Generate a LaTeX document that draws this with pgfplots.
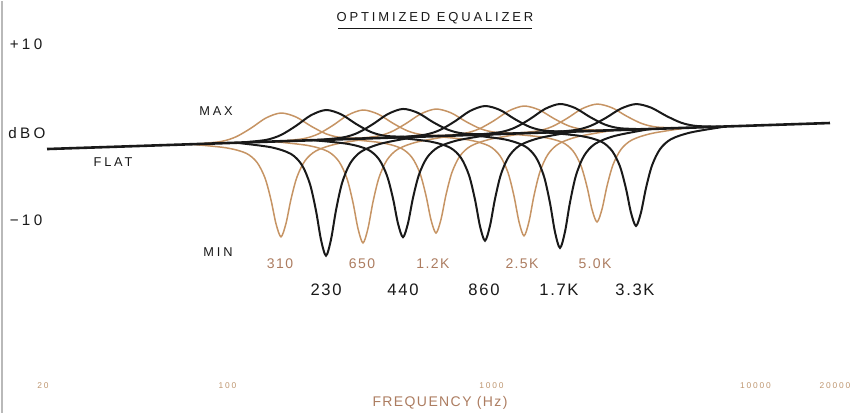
\documentclass[border=0pt]{standalone}
\usepackage{fontspec}
\setmainfont{Liberation Sans}
\newfontfamily\lettA[LetterSpace=22]{Liberation Sans}
\newfontfamily\lettB[LetterSpace=10]{Liberation Sans}
\usepackage{pgfplots}
\pgfplotsset{compat=1.18}
\definecolor{brownline}{RGB}{198,148,100}
\definecolor{brownlab}{RGB}{172,124,96}
\definecolor{ticklab}{RGB}{190,150,112}
\definecolor{inkk}{RGB}{25,25,25}
\begin{document}
\begin{tikzpicture}
\begin{axis}[
  scale only axis, width=429.5pt, height=206pt,
  xmin=1.1381, xmax=4.3919, ymin=-31.64, ymax=14.92,
  axis line style={draw=none}, ytick=\empty,
  xtick={1.30103,2,3,4,4.30103},
  xticklabels={20,100,1000,10000,20000},
  major tick length=0pt,
  xticklabel style={font=\lettA\fontsize{4.2}{5}\selectfont, text=ticklab, anchor=center, yshift=13.5pt},
  clip=false,
  every axis plot/.append style={smooth, no markers},
]
\path (rel axis cs:0,0) rectangle (rel axis cs:1,1);
\draw[gray!55, line width=1pt] (rel axis cs:0.002,0) -- (rel axis cs:0.002,1);
% ---------- brown bands ----------
\addplot[brownline, line width=0.75pt] coordinates {(1.8616,-1.27)(1.9942,-1.67)(2.0699,-2.28)(2.1116,-3.32)(2.1419,-5.08)(2.1646,-7.56)(2.1836,-10.26)(2.2025,-11.73)(2.2214,-10.22)(2.2404,-7.48)(2.2631,-4.96)(2.2934,-3.14)(2.3351,-2.02)(2.4108,-1.25)(2.5434,-0.59)};
\addplot[brownline, line width=0.75pt] coordinates {(1.8805,-1.25)(1.9752,-0.96)(2.0320,-0.43)(2.0889,0.55)(2.1457,1.70)(2.2025,2.26)(2.2593,1.81)(2.3161,0.78)(2.3730,-0.09)(2.4298,-0.51)(2.5245,-0.61)};
\addplot[brownline, line width=0.75pt] coordinates {(2.1722,-0.96)(2.3048,-1.41)(2.3805,-2.09)(2.4222,-3.23)(2.4525,-5.16)(2.4752,-7.86)(2.4942,-10.81)(2.5131,-12.42)(2.5320,-10.78)(2.5510,-7.78)(2.5737,-5.04)(2.6040,-3.05)(2.6457,-1.82)(2.7214,-0.99)(2.8540,-0.29)};
\addplot[brownline, line width=0.75pt] coordinates {(2.1911,-0.94)(2.2858,-0.65)(2.3426,-0.12)(2.3995,0.87)(2.4563,2.03)(2.5131,2.60)(2.5699,2.14)(2.6267,1.10)(2.6836,0.22)(2.7404,-0.20)(2.8351,-0.30)};
\addplot[brownline, line width=0.75pt] coordinates {(2.4487,-0.69)(2.5813,-1.09)(2.6570,-1.72)(2.6987,-2.77)(2.7290,-4.56)(2.7517,-7.07)(2.7707,-9.81)(2.7896,-11.30)(2.8085,-9.77)(2.8275,-6.99)(2.8502,-4.44)(2.8805,-2.59)(2.9222,-1.46)(2.9979,-0.68)(3.1305,-0.01)};
\addplot[brownline, line width=0.75pt] coordinates {(2.4676,-0.67)(2.5623,-0.38)(2.6191,0.12)(2.6760,1.07)(2.7328,2.17)(2.7896,2.71)(2.8464,2.28)(2.9032,1.29)(2.9601,0.46)(3.0169,0.07)(3.1116,-0.03)};
\addplot[brownline, line width=0.75pt] coordinates {(2.7821,-0.36)(2.9147,-0.79)(2.9904,-1.46)(3.0321,-2.58)(3.0624,-4.48)(3.0851,-7.13)(3.1041,-10.04)(3.1230,-11.62)(3.1419,-10.00)(3.1609,-7.06)(3.1836,-4.36)(3.2139,-2.40)(3.2556,-1.20)(3.3313,-0.38)(3.4639,0.32)};
\addplot[brownline, line width=0.75pt] coordinates {(2.8010,-0.34)(2.8957,-0.05)(2.9525,0.46)(3.0094,1.40)(3.0662,2.51)(3.1230,3.05)(3.1798,2.62)(3.2366,1.63)(3.2935,0.79)(3.3503,0.40)(3.4450,0.30)};
\addplot[brownline, line width=0.75pt] coordinates {(3.0586,-0.08)(3.1912,-0.46)(3.2669,-1.04)(3.3086,-2.03)(3.3389,-3.71)(3.3616,-6.07)(3.3806,-8.64)(3.3995,-10.05)(3.4184,-8.61)(3.4374,-5.99)(3.4601,-3.59)(3.4904,-1.85)(3.5321,-0.78)(3.6078,-0.04)(3.7404,0.59)};
\addplot[brownline, line width=0.75pt] coordinates {(3.0775,-0.06)(3.1722,0.22)(3.2290,0.72)(3.2859,1.65)(3.3427,2.74)(3.3995,3.27)(3.4563,2.85)(3.5131,1.88)(3.5700,1.06)(3.6268,0.67)(3.7215,0.57)};
% ---------- black bands ----------
\addplot[inkk, line width=1pt] coordinates {(2.0321,-1.10)(2.1647,-1.61)(2.2404,-2.37)(2.2821,-3.64)(2.3124,-5.79)(2.3351,-8.79)(2.3541,-12.07)(2.3730,-13.86)(2.3919,-12.04)(2.4109,-8.72)(2.4336,-5.67)(2.4639,-3.46)(2.5056,-2.11)(2.5813,-1.20)(2.7139,-0.42)};
\addplot[inkk, line width=1pt] coordinates {(2.0510,-1.08)(2.1457,-0.78)(2.2025,-0.22)(2.2594,0.81)(2.3162,2.01)(2.3730,2.60)(2.4298,2.12)(2.4866,1.03)(2.5435,0.11)(2.6003,-0.33)(2.6950,-0.44)};
\addplot[inkk, line width=1pt] coordinates {(2.3237,-0.81)(2.4563,-1.23)(2.5320,-1.88)(2.5737,-2.97)(2.6040,-4.82)(2.6267,-7.40)(2.6457,-10.23)(2.6646,-11.77)(2.6835,-10.20)(2.7025,-7.33)(2.7252,-4.70)(2.7555,-2.79)(2.7972,-1.62)(2.8729,-0.82)(3.0055,-0.14)};
\addplot[inkk, line width=1pt] coordinates {(2.3426,-0.79)(2.4373,-0.50)(2.4941,0.03)(2.5510,1.01)(2.6078,2.15)(2.6646,2.72)(2.7214,2.27)(2.7782,1.23)(2.8351,0.37)(2.8919,-0.05)(2.9866,-0.15)};
\addplot[inkk, line width=1pt] coordinates {(2.6343,-0.50)(2.7669,-0.96)(2.8426,-1.65)(2.8843,-2.81)(2.9146,-4.77)(2.9373,-7.52)(2.9563,-10.53)(2.9752,-12.17)(2.9941,-10.49)(3.0131,-7.45)(3.0358,-4.65)(3.0661,-2.63)(3.1078,-1.39)(3.1835,-0.55)(3.3161,0.17)};
\addplot[inkk, line width=1pt] coordinates {(2.6532,-0.48)(2.7479,-0.19)(2.8047,0.34)(2.8616,1.33)(2.9184,2.49)(2.9752,3.05)(3.0320,2.60)(3.0888,1.56)(3.1457,0.68)(3.2025,0.26)(3.2972,0.15)};
\addplot[inkk, line width=1pt] coordinates {(2.9184,-0.22)(3.0510,-0.73)(3.1267,-1.50)(3.1684,-2.76)(3.1987,-4.91)(3.2214,-7.91)(3.2404,-11.20)(3.2593,-12.98)(3.2782,-11.16)(3.2972,-7.84)(3.3199,-4.79)(3.3502,-2.58)(3.3919,-1.23)(3.4676,-0.32)(3.6002,0.45)};
\addplot[inkk, line width=1pt] coordinates {(2.9373,-0.20)(3.0320,0.09)(3.0888,0.61)(3.1457,1.58)(3.2025,2.72)(3.2593,3.28)(3.3161,2.83)(3.3729,1.81)(3.4298,0.95)(3.4866,0.54)(3.5813,0.43)};
\addplot[inkk, line width=1pt] coordinates {(3.2063,0.06)(3.3389,-0.34)(3.4146,-0.96)(3.4563,-2.01)(3.4866,-3.79)(3.5093,-6.29)(3.5283,-9.01)(3.5472,-10.50)(3.5661,-8.98)(3.5851,-6.21)(3.6078,-3.67)(3.6381,-1.83)(3.6798,-0.70)(3.7555,0.07)(3.8881,0.74)};
\addplot[inkk, line width=1pt] coordinates {(3.2252,0.08)(3.3199,0.35)(3.3767,0.83)(3.4336,1.72)(3.4904,2.76)(3.5472,3.27)(3.6040,2.87)(3.6608,1.95)(3.7177,1.17)(3.7745,0.80)(3.8692,0.72)};
% ---------- flat ----------
\addplot[inkk, line width=1.3pt, sharp plot] coordinates {(1.3162,-1.81)(4.2820,1.13)};
% ---------- texts ----------
\node[inkk, font=\lettA\fontsize{6.5}{8}\selectfont] at (axis cs:2.7858,12.99) {OPTIMIZED EQUALIZER};
\draw[inkk, line width=0.5pt] (axis cs:2.4184,11.86) -- (axis cs:3.1533,11.86);
\node[inkk, font=\lettA\fontsize{7.6}{9}\selectfont] at (axis cs:1.2366,10.06) {+10};
\node[inkk, font=\lettA\fontsize{7.6}{9}\selectfont] at (axis cs:1.2404,0) {dBO};
\node[inkk, font=\lettA\fontsize{7.6}{9}\selectfont] at (axis cs:1.2366,-9.83) {−10};
\node[inkk, font=\lettA\fontsize{6.4}{8}\selectfont] at (axis cs:1.5662,-3.28) {FLAT};
\node[inkk, font=\lettA\fontsize{6.4}{8}\selectfont] at (axis cs:1.9563,2.49) {MAX};
\node[inkk, font=\lettA\fontsize{6.4}{8}\selectfont] at (axis cs:1.9639,-13.45) {MIN};
\begin{scope}[every node/.style={text=brownlab, font=\lettB\fontsize{7}{8}\selectfont}]
\node at (axis cs:2.1986,-14.80) {310};
\node at (axis cs:2.5092,-14.80) {650};
\node at (axis cs:2.7782,-14.80) {1.2K};
\node at (axis cs:3.1154,-14.80) {2.5K};
\node at (axis cs:3.3919,-14.80) {5.0K};
\end{scope}
\begin{scope}[every node/.style={text=inkk, font=\lettB\fontsize{8.3}{9}\selectfont}]
\node at (axis cs:2.3730,-17.74) {230};
\node at (axis cs:2.6646,-17.74) {440};
\node at (axis cs:2.9714,-17.74) {860};
\node at (axis cs:3.2555,-17.74) {1.7K};
\node at (axis cs:3.5434,-17.74) {3.3K};
\end{scope}
\node[text=brownlab, font=\lettB\fontsize{7}{8}\selectfont] at (axis cs:2.8048,-30.5) {FREQUENCY (Hz)};
\end{axis}
\end{tikzpicture}
\end{document}
